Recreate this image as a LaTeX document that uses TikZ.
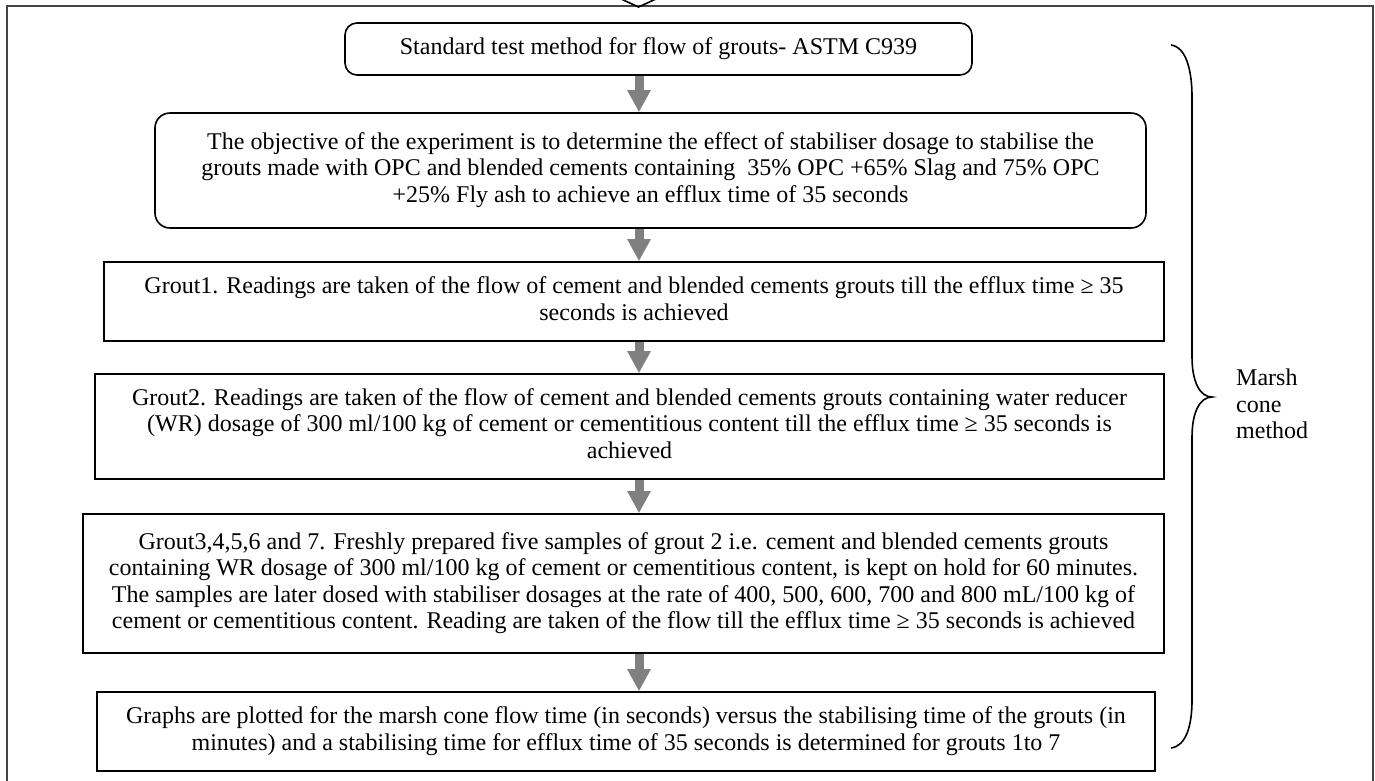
\documentclass[tikz,border=0pt]{standalone}
\usepackage{fontspec}
\setmainfont{Liberation Serif}
\usetikzlibrary{arrows.meta}
\definecolor{arrowgray}{HTML}{808080}
\definecolor{framegray}{HTML}{444444}
\newcommand\ls{\strut}
\begin{document}
\begin{tikzpicture}[x=1pt,y=-1pt,
  every node/.style={font=\fontsize{24}{26.5}\selectfont},
  rbox/.style={draw, line width=1.6pt, rounded corners=12pt, align=center, inner sep=0pt},
  sbox/.style={draw, line width=1.6pt, align=center, inner sep=0pt},
  fat/.style={draw=arrowgray, line width=9pt, -{Triangle[width=22pt,length=22pt]}},
  bracestyle/.style={draw, line width=1.6pt},
  framestyle/.style={draw=framegray, line width=1.6pt},
]
\useasboundingbox (0,0) rectangle (1375,780);
\begin{scope}
\clip (0,0) rectangle (1375,780);
% outer frame
\draw[framestyle] (7,800) -- (7,6) -- (1373,6) -- (1373,800);
% chevron from arrow above
\draw[line width=1.6pt] (606,-8) -- (638.5,7) -- (671,-8);

\node[rbox, minimum width=627pt, minimum height=52pt] (b1) at (658.5,49)
  {\ls Standard test method for flow of grouts- ASTM C939};
\node[rbox, rounded corners=15pt, minimum width=991pt, minimum height=115pt] (b2) at (650.5,170.5)
  {\ls The objective of the experiment is to determine the effect of stabiliser dosage to stabilise the\\
   \ls grouts made with OPC and blended cements containing \ 35\% OPC +65\% Slag and 75\% OPC\\
   \ls +25\% Fly ash to achieve an efflux time of 35 seconds};
\node[sbox, minimum width=1060pt, minimum height=79pt] (b3) at (634,301.5)
  {\ls Grout1. Readings are taken of the flow of cement and blended cements grouts till the efflux time ≥ 35\\
   \ls seconds is achieved};
\node[sbox, minimum width=1069pt, minimum height=105pt] (b4) at (629.5,426.5)
  {\ls Grout2. Readings are taken of the flow of cement and blended cements grouts containing water reducer\\
   \ls (WR) dosage of 300 ml/100 kg of cement or cementitious content till the efflux time ≥ 35 seconds is\\
   \ls achieved};
\node[sbox, minimum width=1081pt, minimum height=139pt] (b5) at (623.5,583.5)
  {\ls Grout3,4,5,6 and 7. Freshly prepared five samples of grout 2 i.e. cement and blended cements grouts\\
   \ls containing WR dosage of 300 ml/100 kg of cement or cementitious content, is kept on hold for 60 minutes.\\
   \ls The samples are later dosed with stabiliser dosages at the rate of 400, 500, 600, 700 and 800 mL/100 kg of\\
   \ls cement or cementitious content. Reading are taken of the flow till the efflux time ≥ 35 seconds is achieved};
\node[sbox, minimum width=1058pt, minimum height=79pt] (b6) at (626,731.5)
  {\ls Graphs are plotted for the marsh cone flow time (in seconds) versus the stabilising time of the grouts (in\\
   \ls minutes) and a stabilising time for efflux time of 35 seconds is determined for grouts 1to 7};

% arrows
\coordinate (ax) at (639,0);
\draw[fat] (b1.south -| ax) -- (b2.north -| ax);
\draw[fat] (b2.south -| ax) -- (b3.north -| ax);
\draw[fat] (b3.south -| ax) -- (b4.north -| ax);
\draw[fat] (b4.south -| ax) -- (b5.north -| ax);
\draw[fat] (b5.south -| ax) -- (b6.north -| ax);

% brace
\draw[bracestyle] (1171,45) .. controls (1186,47) and (1192,70) .. (1192,97)
  -- (1192,357) .. controls (1192,382) and (1200,397) .. (1212,397)
  .. controls (1200,397) and (1192,412) .. (1192,437)
  -- (1192,700) .. controls (1192,726) and (1186,746) .. (1171,748);
\node[align=left, anchor=north west, inner sep=0pt] (lbl) at (1236,367)
  {\ls Marsh\\ \ls cone\\ \ls method};
\end{scope}
\end{tikzpicture}
\end{document}
